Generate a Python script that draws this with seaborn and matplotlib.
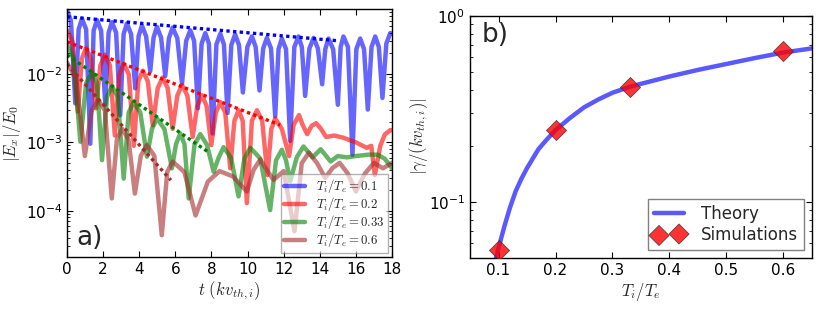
import numpy as np
import matplotlib
matplotlib.use("Agg")
import matplotlib.pyplot as plt
import matplotlib.ticker as mticker
import seaborn as sns

# panel a: |E_x|/E_0 against t (troughs, lobe flanks, peaks)
t_01 = [0, 0.22, 0.46, 0.645, 0.83, 1.06, 1.29, 1.475, 1.66, 1.89, 2.12, 2.305, 2.49, 2.72,
        2.95, 3.135, 3.32, 3.55, 3.78, 3.965, 4.15, 4.38, 4.61, 4.795, 4.98, 5.21, 5.44, 5.645,
        5.85, 6.11, 6.37, 6.6, 6.83, 7.04, 7.25, 7.455, 7.66, 7.86, 8.06, 8.275, 8.49, 8.69,
        8.89, 9.1, 9.31, 9.525, 9.74, 9.99, 10.24, 10.45, 10.66, 10.865, 11.07, 11.3, 11.53,
        11.715, 11.9, 12.13, 12.36, 12.59, 12.82, 13.005, 13.19, 13.425, 13.66, 13.895, 14.13,
        14.305, 14.48, 14.74, 15.0, 15.155, 15.31, 15.56, 15.81, 16.025, 16.24, 16.45, 16.66,
        16.865, 17.07, 17.27, 17.47, 17.685, 17.9, 18.0]
e_01 = [0.0871, 0.060, 0.00372, 0.0452, 0.0646, 0.0452, 0.000955, 0.0432, 0.0617, 0.0432,
        0.00355, 0.0403, 0.0575, 0.0403, 0.00251, 0.0385, 0.0550, 0.0385, 0.00617, 0.0359,
        0.0513, 0.0359, 0.0110, 0.0343, 0.0490, 0.0343, 0.00933, 0.0335, 0.0479, 0.0335,
        0.00724, 0.0306, 0.0437, 0.0306, 0.00316, 0.0279, 0.0398, 0.0279, 0.00135, 0.0272,
        0.0389, 0.0272, 0.00269, 0.0266, 0.0380, 0.0266, 0.00537, 0.0249, 0.0355, 0.0249,
        0.00575, 0.0237, 0.0339, 0.0237, 0.00240, 0.0232, 0.0331, 0.0232, 0.00105, 0.0249,
        0.0355, 0.0249, 0.00479, 0.0237, 0.0339, 0.0237, 0.00708, 0.0232, 0.0331, 0.0232,
        0.00355, 0.0249, 0.0355, 0.0249, 0.000661, 0.0232, 0.0331, 0.0232, 0.00302, 0.0249,
        0.0355, 0.0249, 0.00447, 0.0279, 0.0398, 0.0389]

t_02 = [0, 0.3, 0.6, 0.825, 1.05, 1.325, 1.6, 1.85, 2.1, 2.375, 2.65, 2.9, 3.15, 3.425, 3.7,
        3.95, 4.2, 4.475, 4.75, 5.025, 5.3, 5.575, 5.85, 6.11, 6.37, 6.665, 6.96, 7.215, 7.47,
        7.73, 7.99, 8.24, 8.49, 8.765, 9.04, 9.27, 9.5, 9.73, 9.96, 10.24, 10.52, 10.81, 11.1,
        11.315, 11.53, 11.9, 12.3, 12.55, 12.85, 13.05, 13.3, 13.55, 13.8, 14.05, 14.35, 14.8,
        15.3, 16.0, 16.6, 16.85, 17.05, 17.35, 17.6, 17.9, 18.0]
e_02 = [0.0437, 0.030, 0.00282, 0.0168, 0.0240, 0.0168, 0.00316, 0.0134, 0.0191, 0.0134,
        0.00126, 0.00987, 0.0141, 0.00987, 0.000891, 0.00784, 0.0112, 0.00784, 0.00178,
        0.00624, 0.00891, 0.00624, 0.00158, 0.00484, 0.00692, 0.00484, 0.00120, 0.00343,
        0.00490, 0.00343, 0.000912, 0.00272, 0.00389, 0.00272, 0.000417, 0.00207, 0.00295,
        0.00207, 0.000129, 0.00207, 0.00295, 0.00207, 0.000331, 0.00157, 0.00224, 0.00157,
        0.000631, 0.00180, 0.00251, 0.00180, 0.00132, 0.00175, 0.00191, 0.00160, 0.00120,
        0.00126, 0.00117, 0.00100, 0.000832, 0.000891, 0.000331, 0.000891, 0.00130, 0.00151,
        0.00151]

t_033 = [0, 0.35, 0.74, 1.06, 1.38, 1.66, 1.94, 2.215, 2.49, 2.815, 3.14, 3.415, 3.69, 4.06,
         4.43, 4.705, 4.98, 5.395, 5.81, 6.04, 6.27, 6.505, 6.74, 7.06, 7.38, 7.75, 8.12, 8.395,
         8.67, 9.085, 9.5, 9.825, 10.15, 10.7, 11.25, 11.575, 11.9, 12.13, 12.36, 12.73, 13.1,
         13.6, 14.05, 14.6, 15.0, 15.5, 16.0, 16.7, 17.2, 17.6, 18.0]
e_033 = [0.0269, 0.0175, 0.00102, 0.00735, 0.0105, 0.00735, 0.000550, 0.00463, 0.00661,
         0.00463, 0.000295, 0.00272, 0.00389, 0.00272, 0.000617, 0.00157, 0.00224, 0.00157,
         0.000417, 0.000945, 0.00135, 0.000945, 0.000151, 0.000924, 0.00132, 0.000924,
         0.000372, 0.000596, 0.000851, 0.000596, 0.000162, 0.000582, 0.000832, 0.000582,
         0.000102, 0.000546, 0.00078, 0.000546, 0.000269, 0.00061, 0.000871, 0.000603,
         0.000794, 0.000525, 0.000631, 0.000603, 0.000631, 0.000661, 0.000661, 0.000575,
         0.000417]

t_06 = [0, 0.5, 0.99, 1.36, 1.73, 2.1, 2.48, 2.765, 3.05, 3.405, 3.76, 4.09, 4.42, 4.835, 5.25,
        5.55, 5.85, 6.5, 7.12, 7.8, 8.45, 9.2, 9.96, 10.33, 10.7, 11.07, 11.44, 12.0, 12.6,
        13.0, 13.4, 13.85, 14.3, 14.7, 15.1, 15.55, 16.0, 16.5, 17.0, 17.5, 18.0]
e_06 = [0.0148, 0.0085, 0.000631, 0.00292, 0.00417, 0.00292, 0.000151, 0.00111, 0.00158,
        0.00111, 0.000178, 0.000638, 0.000912, 0.000638, 4.37e-5, 0.000368, 0.000525,
        0.000368, 8.51e-5, 0.000266, 0.000380, 0.000316, 0.000191, 0.000393, 0.000562,
        0.000393, 0.000282, 0.000380, 5.01e-5, 0.000496, 0.000708, 0.000496, 0.000302,
        0.00042, 0.000501, 0.00035, 0.000191, 0.00035, 0.000501, 0.000417, 0.000501]

# damping fits (dotted)
fit_t_01, fit_e_01 = [0, 15.0], [0.069, 0.0307]
fit_t_02, fit_e_02 = [0, 11.8], [0.0297, 0.00179]
fit_t_033, fit_e_033 = [0, 7.9], [0.019, 0.00070]
fit_t_06, fit_e_06 = [0, 5.75], [0.014, 0.00028]

labels_a = [r"$T_i/T_e=0.1$", r"$T_i/T_e=0.2$", r"$T_i/T_e=0.33$", r"$T_i/T_e=0.6$"]

# panel b: damping rate against temperature ratio
ratio_theory = [0.0956, 0.1, 0.11, 0.12, 0.13, 0.14, 0.15, 0.17, 0.185, 0.2, 0.225, 0.25, 0.275,
                0.3, 0.33, 0.35, 0.4, 0.45, 0.5, 0.55, 0.6, 0.65]
gamma_theory = [0.050, 0.0565, 0.0735, 0.093, 0.114, 0.133, 0.152, 0.192, 0.217, 0.243, 0.282,
                0.322, 0.355, 0.386, 0.415, 0.431, 0.472, 0.512, 0.551, 0.593, 0.635, 0.668]
ratio_sim = [0.1, 0.2, 0.33, 0.6]
gamma_sim = [0.0553, 0.243, 0.412, 0.647]


def log_label(v, pos):
    return r"$\mathregular{10^{%d}}$" % int(round(np.log10(v)))


def style_axes(ax):
    for sp in ax.spines.values():
        sp.set_color("black")
        sp.set_linewidth(1.0)
    ax.tick_params(which="both", direction="in", top=True, right=True, colors="black",
                   labelsize=11)
    ax.tick_params(which="major", length=4.5, width=0.8)
    ax.tick_params(which="minor", length=2.5, width=0.6)


sns.set_style("ticks")
plt.rcParams["font.family"] = ["DejaVu Sans"]
plt.rcParams["mathtext.fontset"] = "cm"

fig = plt.figure(figsize=(8.22, 3.09), dpi=100)
ax_a = fig.add_axes([0.0815, 0.1683, 0.3954, 0.8026])
ax_b = fig.add_axes([0.5718, 0.165, 0.416, 0.784])

# ---- panel a
series = [(t_01, e_01, "blue"), (t_02, e_02, "red"), (t_033, e_033, "green"), (t_06, e_06, "brown")]
handles = []
for (t, e, c), lab in zip(series, labels_a):
    sns.lineplot(x=t, y=e, ax=ax_a, color=c, lw=3.2, alpha=0.6, sort=False, estimator=None,
                 label=lab)
    ax_a.lines[-1].set_solid_joinstyle("round")
    handles.append(ax_a.lines[-1])

fits = [(fit_t_01, fit_e_01, "blue"), (fit_t_02, fit_e_02, "red"),
        (fit_t_033, fit_e_033, "green"), (fit_t_06, fit_e_06, "brown")]
for t, e, c in fits:
    sns.lineplot(x=t, y=e, ax=ax_a, color=c, lw=2.4, sort=False, estimator=None)
    ax_a.lines[-1].set_dashes((1.0, 1.0))

ax_a.set_yscale("log")
ax_a.set_xlim(0, 18)
ax_a.set_ylim(2.1e-5, 0.0896)
ax_a.set_xticks(range(0, 19, 2))
ax_a.yaxis.set_major_formatter(mticker.FuncFormatter(log_label))
ax_a.yaxis.set_minor_formatter(mticker.NullFormatter())
style_axes(ax_a)
ax_a.set_xlabel(r"$t\ (kv_{th,i})$", fontsize=12, labelpad=2)
ax_a.set_ylabel(r"$|E_x|/E_0$", fontsize=12, labelpad=2)
ax_a.legend(handles=handles, labels=labels_a, loc="lower right", fontsize=9.2,
            fancybox=False, edgecolor="0.5", framealpha=0.6, handlelength=1.7,
            borderaxespad=0.35, labelspacing=0.0, borderpad=0.25, handletextpad=0.8)
ax_a.text(0.03, 0.05, "a)", transform=ax_a.transAxes, fontsize=19, ha="left", va="baseline")

# ---- panel b
sns.lineplot(x=ratio_theory, y=gamma_theory, ax=ax_b, color="blue", lw=3.2, alpha=0.65,
             sort=False, estimator=None, label="Theory", zorder=2)
sns.scatterplot(x=ratio_sim, y=gamma_sim, ax=ax_b, marker="D", s=105, color="red", alpha=0.8,
                edgecolor="0.2", linewidth=0.6, label="Simulations", zorder=3)
ax_b.set_yscale("log")
ax_b.set_xlim(0.05, 0.65)
ax_b.set_ylim(0.05, 1.0)
ax_b.set_xticks([0.1, 0.2, 0.3, 0.4, 0.5, 0.6])
ax_b.yaxis.set_major_formatter(mticker.FuncFormatter(log_label))
ax_b.yaxis.set_minor_formatter(mticker.NullFormatter())
style_axes(ax_b)
ax_b.set_xlabel(r"$T_i/T_e$", fontsize=12, labelpad=2)
ax_b.set_ylabel(r"$|\gamma/(kv_{th,i})|$", fontsize=12, labelpad=-1)
ax_b.legend(loc="lower right", fontsize=12, fancybox=False, edgecolor="0.5", framealpha=1,
            scatterpoints=2, handlelength=1.8, borderaxespad=0.5, labelspacing=0.2,
            borderpad=0.35, handletextpad=1.0)
ax_b.text(0.035, 0.975, "b)", transform=ax_b.transAxes, fontsize=19, ha="left", va="top")

fig.savefig("out.png", dpi=100)
